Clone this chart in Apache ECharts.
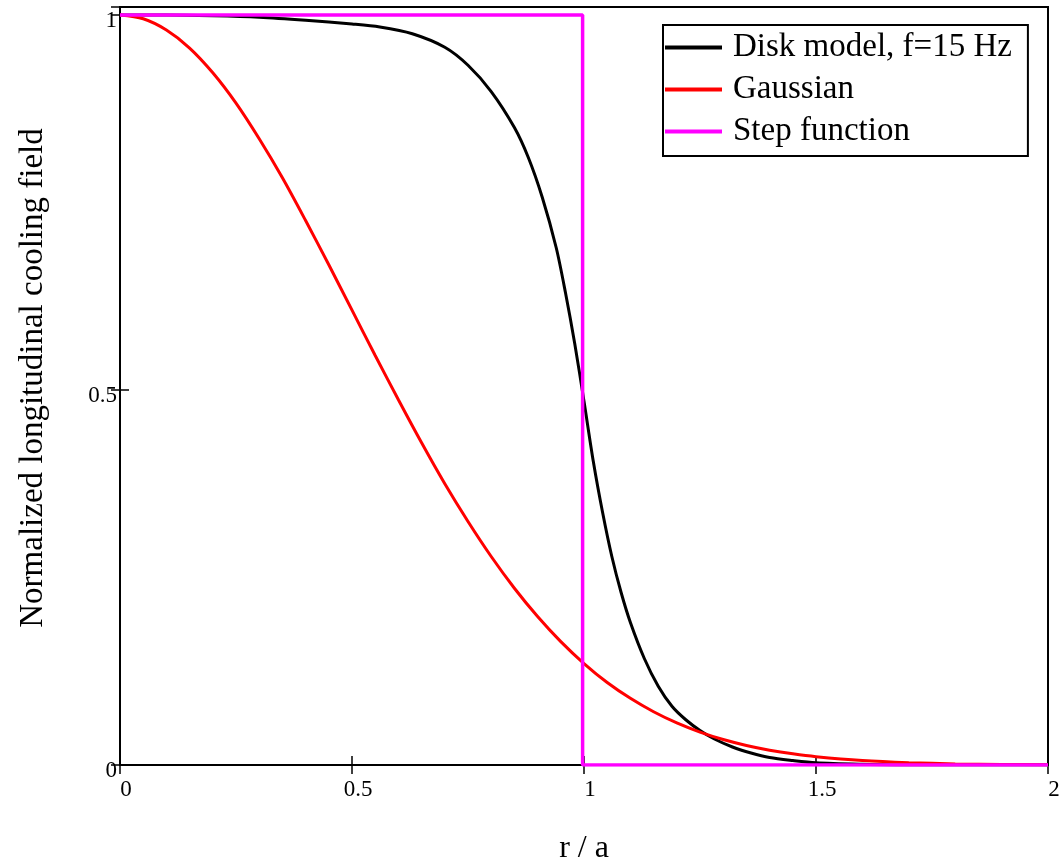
<!DOCTYPE html>
<html>
<head>
<meta charset="utf-8">
<script src="https://cdn.jsdelivr.net/npm/echarts@6/dist/echarts.min.js"></script>
<style>html,body{margin:0;padding:0;background:#fff;}#c{width:1059px;height:863px;}</style>
</head>
<body>
<div id="c"></div>
<script>
const seriesNames = ['Disk model, f=15 Hz', 'Gaussian', 'Step function'];
const diskR = [0, 0.1, 0.2, 0.3, 0.4, 0.5, 0.56, 0.63, 0.70, 0.75, 0.80, 0.85, 0.88, 0.91, 0.94, 0.96, 0.98, 1.00, 1.02, 1.04, 1.06, 1.08, 1.10, 1.13, 1.16, 1.19, 1.22, 1.25, 1.28, 1.32, 1.36, 1.40, 1.45, 1.50, 1.60, 1.70, 2.00];
const diskV = [1, 1.0, 0.999, 0.997, 0.993, 0.988, 0.984, 0.975, 0.957, 0.933, 0.898, 0.850, 0.810, 0.757, 0.690, 0.630, 0.562, 0.485, 0.405, 0.337, 0.278, 0.230, 0.190, 0.142, 0.105, 0.078, 0.060, 0.046, 0.035, 0.024, 0.016, 0.010, 0.006, 0.003, 0.001, 0.0, 0.0];
const gaussR = [0, 0.05, 0.1, 0.15, 0.2, 0.25, 0.3, 0.35, 0.4, 0.45, 0.5, 0.55, 0.6, 0.65, 0.7, 0.75, 0.8, 0.85, 0.9, 0.95, 1.0, 1.05, 1.1, 1.15, 1.2, 1.25, 1.3, 1.35, 1.4, 1.45, 1.5, 1.6, 1.7, 1.8, 1.9, 2.0];
const gaussV = [1, 0.995, 0.980, 0.956, 0.923, 0.8825, 0.835, 0.783, 0.726, 0.667, 0.6065, 0.546, 0.487, 0.4296, 0.375, 0.3247, 0.278, 0.2357, 0.198, 0.1645, 0.1353, 0.110, 0.0889, 0.0710, 0.0561, 0.0439, 0.0340, 0.0261, 0.0198, 0.0149, 0.0111, 0.006, 0.0031, 0.0015, 0.0007, 0.0003];
const stepR = [0, 0.997, 0.997, 2];
const stepV = [1, 1, 0, 0];
const xTicks = [0, 0.5, 1, 1.5, 2];
const yTicks = [0, 0.5, 1];

const zip = (a, b) => a.map((v, i) => [v, b[i]]);
const FONT = "'Liberation Serif', 'Times New Roman', serif";
const isTick = (v, list) => list.some(t => Math.abs(t - v) < 1e-6);

const chart = echarts.init(document.getElementById('c'), null, {renderer: 'canvas'});
const axisLineStyle = {show: true, lineStyle: {color: '#000', width: 2}};
const tickStyle = {show: true, inside: true, length: 9, lineStyle: {color: '#000', width: 1.5}};
chart.setOption({
  animation: false,
  backgroundColor: '#fff',
  grid: {left: 120, right: 11, top: 7, bottom: 98, show: true, borderColor: '#000', borderWidth: 2,
    containLabel: false, outerBoundsMode: 'none'},
  legend: {
    data: seriesNames,
    orient: 'vertical',
    left: 663, top: 25,
    icon: 'rect',
    itemWidth: 57, itemHeight: 4,
    itemGap: 9,
    padding: [6, 16, 8, 2],
    borderColor: '#000', borderWidth: 2, backgroundColor: '#fff',
    textStyle: {fontFamily: FONT, fontSize: 33, color: '#000', lineHeight: 33, padding: [0, 0, 0, 6]}
  },
  xAxis: [{
    type: 'value', min: 0, max: 2, interval: 0.5, position: 'bottom',
    name: 'r / a', nameLocation: 'middle', nameGap: 68,
    nameTextStyle: {fontFamily: FONT, fontSize: 32, color: '#000'},
    axisLine: axisLineStyle, axisTick: tickStyle, splitLine: {show: false},
    axisLabel: {fontFamily: FONT, fontSize: 23, color: '#000', margin: 13, padding: [0, 0, 0, 12],
      formatter: v => isTick(v, xTicks) ? String(v) : ''}
  }, {
    type: 'value', min: 0, max: 2, interval: 0.5, position: 'top',
    axisLine: axisLineStyle, axisTick: tickStyle, axisLabel: {show: false}, splitLine: {show: false}
  }],
  yAxis: [{
    type: 'value', min: 0, max: 1.0107, interval: 0.5, position: 'left',
    name: 'Normalized longitudinal cooling field', nameLocation: 'middle', nameGap: 70,
    nameTextStyle: {fontFamily: FONT, fontSize: 33, color: '#000', padding: [0, 0, 0, 16]},
    axisLine: axisLineStyle, axisTick: tickStyle, splitLine: {show: false},
    axisLabel: {fontFamily: FONT, fontSize: 23, color: '#000', margin: 3, verticalAlign: 'top', lineHeight: 11,
      formatter: v => isTick(v, yTicks) ? String(v) : ''}
  }, {
    type: 'value', min: 0, max: 1.0107, interval: 0.5, position: 'right',
    axisLine: axisLineStyle, axisTick: tickStyle, axisLabel: {show: false}, splitLine: {show: false}
  }],
  series: [
    {name: seriesNames[0], type: 'line', data: zip(diskR, diskV), smooth: 0.3, showSymbol: false, symbol: 'none',
      lineStyle: {color: '#000', width: 3}, itemStyle: {color: '#000'}, z: 2},
    {name: seriesNames[1], type: 'line', data: zip(gaussR, gaussV), smooth: 0.3, showSymbol: false, symbol: 'none',
      lineStyle: {color: '#ff0000', width: 3}, itemStyle: {color: '#ff0000'}, z: 3},
    {name: seriesNames[2], type: 'line', data: zip(stepR, stepV), showSymbol: false, symbol: 'none',
      lineStyle: {color: '#ff00ff', width: 3.5}, itemStyle: {color: '#ff00ff'}, z: 4}
  ]
});
</script>
</body>
</html>
